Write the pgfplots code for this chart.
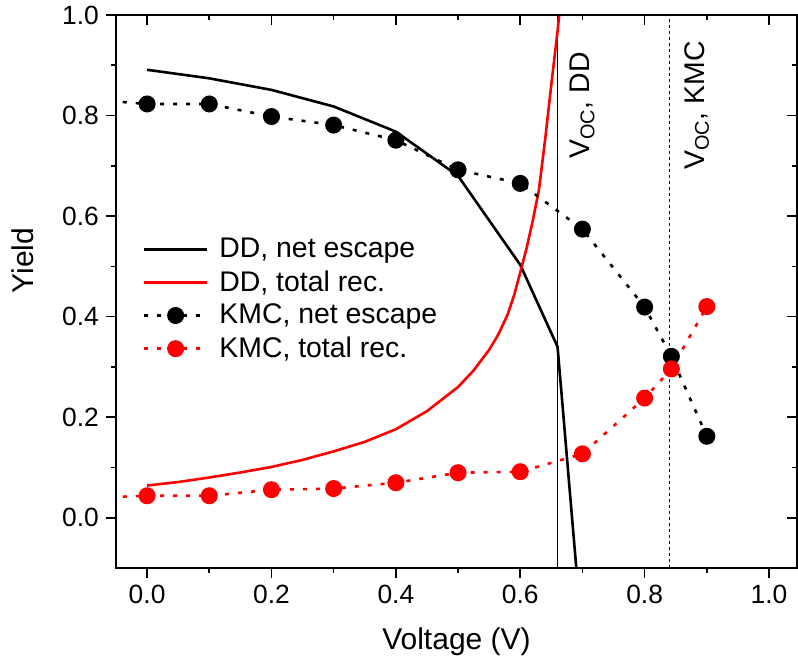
\documentclass[border=0pt]{standalone}
\usepackage{fontspec}
\setmainfont{Liberation Sans}
\usepackage{pgfplots}
\pgfplotsset{compat=1.18}
\newcommand{\fs}{\fontsize{13.2}{15.8}\selectfont}
\newcommand{\fl}{\fontsize{14.2}{17}\selectfont}
\newcommand{\fa}{\fontsize{15}{18}\selectfont}
\begin{document}
\begin{tikzpicture}
\pgfplotsset{
  base/.style={
    width=340.5pt, height=276.5pt, scale only axis,
    xmin=-0.05, xmax=1.045, ymin=-0.1, ymax=1.0,
    xtick={0,0.2,0.4,0.6,0.8,1.0}, ytick={0,0.2,0.4,0.6,0.8,1.0},
    minor x tick num=1, minor y tick num=1,
    axis line style={line width=0.8pt},
    every tick/.style={line width=0.8pt, black},
    major tick length=5pt, minor tick length=2.5pt,
    font=\fs,
    /pgf/number format/.cd, fixed, fixed zerofill, precision=1, assume math mode=true,
  }
}
\begin{axis}[base,
  tick align=outside, xtick pos=left, ytick pos=left,
  xlabel={Voltage (V)}, ylabel={Yield},
  xlabel style={at={(axis description cs:0.5,-0.134)}, anchor=center, font=\fa},
  ylabel style={at={(axis description cs:-0.1366,0.556)}, anchor=center, font=\fa},
  legend style={draw=none, fill=none, at={(axis description cs:0.03,0.612)}, anchor=north west, font=\fl, row sep=1pt, column sep=3.5pt},
  legend cell align=left,
  legend image code/.code={\draw[mark repeat=2,mark phase=2,#1] plot coordinates {(0pt,0pt) (15.75pt,0pt) (31.5pt,0pt)};},
]
% Voc lines
\addplot[black, line width=0.75pt, forget plot] coordinates {(0.66,-0.1) (0.66,1.0)};
\addplot[black, line width=0.75pt, dash pattern=on 1.6pt off 1.4pt, forget plot] coordinates {(0.84,-0.1) (0.84,1.0)};
% DD net escape
\addplot[black, line width=1.3pt] coordinates {(0,0.891)(0.1,0.874)(0.2,0.851)(0.3,0.818)(0.4,0.768)(0.5,0.680)(0.6,0.503)(0.66,0.340)(0.70,-0.244)};
\addlegendentry{DD, net escape}
% DD total rec
\addplot[red, line width=1.3pt] coordinates {(0.00,0.064)(0.05,0.071)(0.10,0.080)(0.15,0.090)(0.20,0.101)(0.25,0.115)(0.30,0.132)(0.35,0.151)(0.40,0.176)(0.45,0.212)(0.50,0.260)(0.525,0.293)(0.55,0.334)(0.565,0.365)(0.58,0.405)(0.59,0.442)(0.60,0.488)(0.61,0.535)(0.62,0.590)(0.63,0.652)(0.64,0.752)(0.65,0.862)(0.66,0.968)(0.666,1.04)};
\addlegendentry{DD, total rec.}
% extensions
\addplot[black, line width=1.3pt, dash pattern=on 2pt off 4.5pt, forget plot] coordinates {(-0.06,0.829)(0,0.823)};
\addplot[red, line width=1.3pt, dash pattern=on 2pt off 4.5pt, forget plot] coordinates {(-0.06,0.041)(0,0.0437)};
% KMC net escape
\addplot[black, line width=1.3pt, dash pattern=on 2pt off 4.5pt, mark=*, mark size=3.6pt, mark options={solid, fill=black}] coordinates {(0,0.823)(0.1,0.823)(0.2,0.798)(0.3,0.781)(0.4,0.751)(0.5,0.692)(0.6,0.665)(0.7,0.574)(0.8,0.419)(0.843,0.321)(0.9,0.162)};
\addlegendentry{KMC, net escape}
% KMC total rec
\addplot[red, line width=1.3pt, dash pattern=on 2pt off 4.5pt, mark=*, mark size=3.6pt, mark options={solid, fill=red}] coordinates {(0,0.0437)(0.1,0.0437)(0.2,0.0557)(0.3,0.058)(0.4,0.0696)(0.5,0.0895)(0.6,0.0915)(0.7,0.127)(0.8,0.238)(0.843,0.296)(0.9,0.420)};
\addlegendentry{KMC, total rec.}
\node[rotate=90, anchor=center, font=\fl] at (axis cs:0.700,0.82) {V\textsubscript{OC}, DD};
\node[rotate=90, anchor=center, font=\fl] at (axis cs:0.884,0.82) {V\textsubscript{OC}, KMC};
\end{axis}
\begin{axis}[base, tick align=inside, xtick pos=right, ytick pos=right, xticklabels={}, yticklabels={}]
\addplot[draw=none] coordinates {(0,0)};
\end{axis}
\pgfresetboundingbox
\useasboundingbox ([xshift=-58pt,yshift=-47.5pt]current axis.south west) rectangle ([xshift=0.5pt,yshift=7.5pt]current axis.north east);
\end{tikzpicture}
\end{document}
